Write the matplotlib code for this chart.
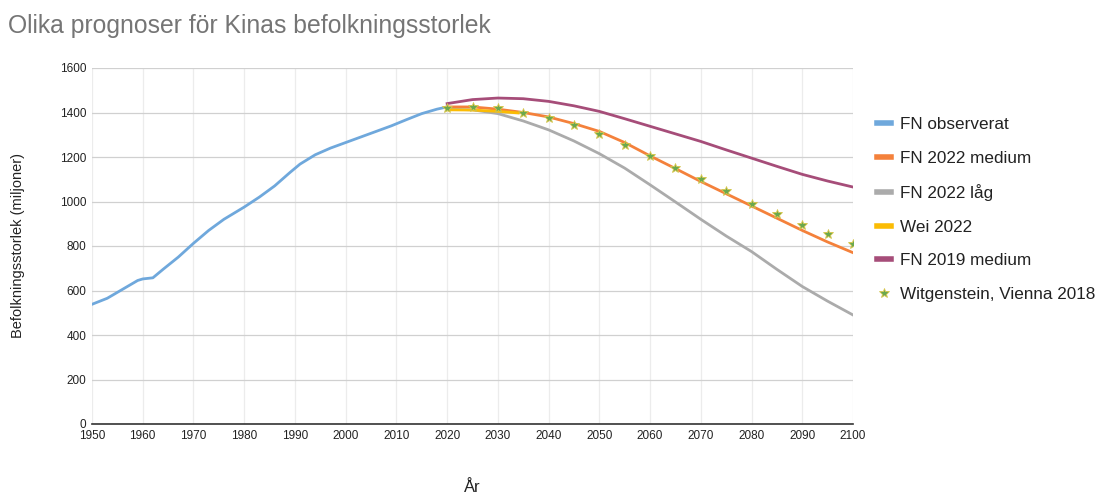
import numpy as np
import matplotlib
matplotlib.use("Agg")
import matplotlib.pyplot as plt

plt.rcParams['font.family'] = ['Liberation Sans', 'DejaVu Sans']

# FN observerat
obs_years = [1950, 1953, 1956, 1959, 1960, 1962, 1964, 1967, 1970, 1973, 1976, 1980, 1983, 1986,
             1989, 1991, 1994, 1997, 2000, 2003, 2006, 2009, 2012, 2015, 2018, 2020]
obs_vals = [538, 565, 605, 645, 652, 657, 695, 750, 812, 870, 920, 975, 1020, 1070,
            1130, 1168, 1210, 1240, 1265, 1290, 1315, 1340, 1368, 1395, 1415, 1425]

proj_years = [2020, 2025, 2030, 2035, 2040, 2045, 2050, 2055, 2060, 2065, 2070,
              2075, 2080, 2085, 2090, 2095, 2100]
fn2022_medium = [1425, 1425, 1415, 1400, 1380, 1350, 1315, 1265, 1205, 1148, 1090,
                 1035, 980, 925, 870, 818, 770]
fn2022_low = [1415, 1412, 1395, 1362, 1322, 1272, 1215, 1150, 1075, 998, 920,
              845, 775, 695, 618, 552, 490]
fn2019_medium = [1440, 1458, 1465, 1462, 1450, 1430, 1405, 1372, 1338, 1304, 1270,
                 1232, 1195, 1158, 1122, 1092, 1065]

wei_years = [2020, 2025, 2030, 2034]
wei_vals = [1412, 1411, 1405, 1398]

wit_years = proj_years
wit_vals = [1420, 1425, 1420, 1400, 1375, 1345, 1305, 1255, 1205, 1150, 1100,
            1045, 990, 942, 895, 855, 810]

fig = plt.figure(figsize=(11.03, 4.95), dpi=100)
ax = fig.add_axes([92/1103, 1 - 424/495, (853-92)/1103, (424-68)/495])

ax.plot(obs_years, obs_vals, color='#6fa8dc', lw=2, label='FN observerat')
ax.plot(proj_years, fn2022_medium, color='#f4813b', lw=2, label='FN 2022 medium')
ax.plot(proj_years, fn2022_low, color='#ababab', lw=2, label='FN 2022 låg')
ax.plot(wei_years, wei_vals, color='#fbbc04', lw=2, label='Wei 2022')
ax.plot(proj_years, fn2019_medium, color='#a64d79', lw=2, label='FN 2019 medium')
ax.plot(wit_years, wit_vals, ls='none', marker='*', ms=7, color='#6aa84f',
        mec='#d9c64a', mew=0.6, label='Witgenstein, Vienna 2018')

ax.set_xlim(1950, 2100)
ax.set_ylim(0, 1600)
ax.set_xticks(np.arange(1950, 2101, 10))
ax.set_yticks(np.arange(0, 1601, 200))
ax.tick_params(labelsize=8.5, length=0, colors='#222222', pad=4)
ax.grid(axis='y', color='#d0d0d0', lw=0.9)
ax.grid(axis='x', color='#ececec', lw=0.9)
ax.set_axisbelow(True)
for s in ['top', 'right', 'left']:
    ax.spines[s].set_visible(False)
ax.spines['bottom'].set_color('#333333')
ax.spines['bottom'].set_linewidth(1.2)

fig.text(18/1103, 1 - 246/495, 'Befolkningsstorlek (miljoner)', fontsize=10.5,
         color='#222222', rotation=90, ha='center', va='center')
fig.text(472/1103, 1 - 487/495, 'År', fontsize=12, color='#222222',
         ha='center', va='center')

fig.text(8/1103, 1 - 26/495, 'Olika prognoser för Kinas befolkningsstorlek',
         fontsize=17.8, color='#757575', va='center', ha='left')

handles, labels = ax.get_legend_handles_labels()
leg = fig.legend(handles, labels, loc='upper left', bbox_to_anchor=(862/1103, 1 - 102/495),
                 frameon=False, fontsize=12.3, handlelength=0.8, handletextpad=0.5,
                 labelspacing=1.08, labelcolor='#222222')
for h in leg.legend_handles[:5]:
    h.set_linewidth(4)

fig.savefig('out.png', dpi=100)
